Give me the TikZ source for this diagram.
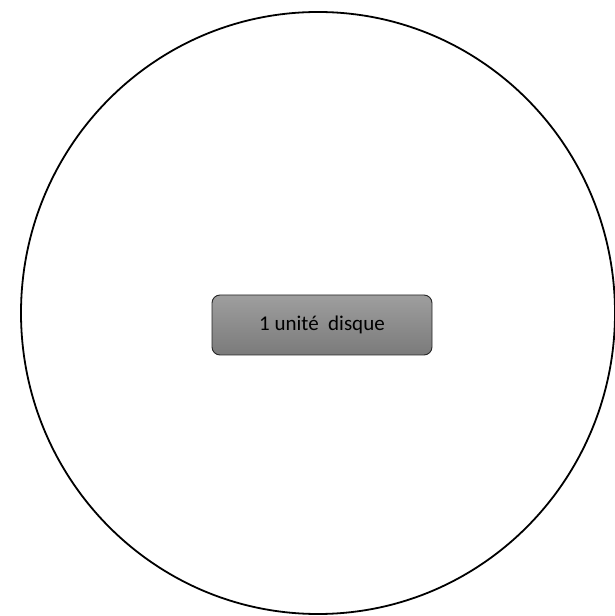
\documentclass[tikz,border=0pt]{standalone}
\usepackage{fontspec}
\setmainfont{Carlito}
\usepackage{tikz}
\usetikzlibrary{positioning}

\begin{document}
\begin{tikzpicture}[x=1pt,y=1pt,font=\fontsize{21}{25}\selectfont]

  \useasboundingbox (0,0) rectangle (615,616);

  % the disc
  \draw[line width=1.8pt] (318,303) ellipse [x radius=297, y radius=301];

  % the label box in the middle
  \node[draw=black!85, line width=0.9pt, rounded corners=8pt,
        top color=black!38, bottom color=black!52,
        minimum width=220pt, minimum height=60pt, inner sep=0pt] (unite) at (322,291) {1 unité~~disque};

\end{tikzpicture}
\end{document}
